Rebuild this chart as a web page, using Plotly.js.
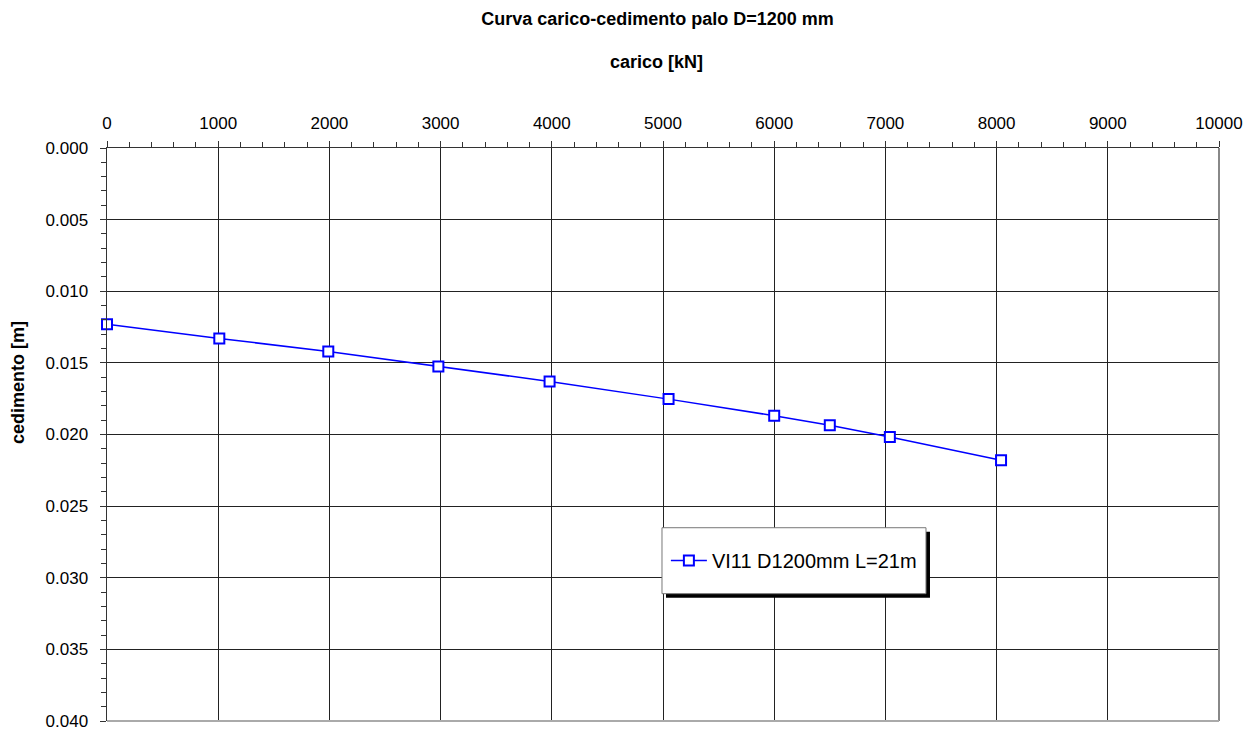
<!DOCTYPE html>
<html>
<head>
<meta charset="utf-8">
<script src="https://cdn.plot.ly/plotly-3.0.1.min.js"></script>
<style>html,body{margin:0;padding:0;background:#fff;}#chart{width:1254px;height:731px;}</style>
</head>
<body>
<div id="chart"></div>
<script>
var carico = [0, 1010, 1990, 2980, 3980, 5050, 6000, 6500, 7040, 8040];
var cedimento = [0.0123, 0.0133, 0.0142, 0.01525, 0.0163, 0.01753, 0.01869, 0.01936, 0.02018, 0.0218];
var seriesName = 'VI11 D1200mm L=21m';
var xTicks = [0, 1000, 2000, 3000, 4000, 5000, 6000, 7000, 8000, 9000, 10000];
var yTicks = [0.000, 0.005, 0.010, 0.015, 0.020, 0.025, 0.030, 0.035, 0.040];

var FONT = 'Liberation Sans, Arial, sans-serif';

var trace = {
  x: carico, y: cedimento, name: seriesName, type: 'scatter', mode: 'lines+markers',
  cliponaxis: false,
  line: {color: '#0000ff', width: 1.5},
  marker: {symbol: 'square', size: 10, color: '#ffffff', line: {color: '#0000ff', width: 2}}
};

var layout = {
  width: 1254, height: 731,
  margin: {l: 107, r: 35, t: 148, b: 10},
  paper_bgcolor: '#ffffff', plot_bgcolor: '#ffffff',
  font: {family: FONT, color: '#000', size: 16},
  showlegend: true,
  title: {text: '<b>Curva carico-cedimento palo D=1200 mm</b>', x: 0.5243, xanchor: 'center', y: 0.975, yanchor: 'middle', yref: 'container', font: {family: FONT, size: 18, color: '#000'}},
  xaxis: {
    side: 'top', range: [0, 10000], tickvals: xTicks, ticktext: xTicks.map(String),
    ticks: 'outside', ticklen: 6, tickcolor: '#333', tickwidth: 1,
    showline: true, linecolor: '#333', linewidth: 1.5, mirror: false,
    showgrid: true, gridcolor: '#222', gridwidth: 1, zeroline: false,
    ticklabelstandoff: 5,
    minor: {dtick: 200, ticks: 'outside', ticklen: 5, tickcolor: '#333', showgrid: false},
    tickfont: {size: 17, family: FONT}
  },
  yaxis: {
    range: [0.040, 0.000], tickvals: yTicks, ticktext: yTicks.map(function(v){return v.toFixed(3);}),
    ticks: 'outside', ticklen: 6, tickcolor: '#333', tickwidth: 1,
    showline: true, linecolor: '#333', linewidth: 1.5, mirror: false,
    showgrid: true, gridcolor: '#222', gridwidth: 1, zeroline: false,
    ticklabelstandoff: 8,
    minor: {dtick: 0.001, ticks: 'outside', ticklen: 5, tickcolor: '#333', showgrid: false},
    tickfont: {size: 17, family: FONT}
  },
  legend: {
    x: 0.5026, y: 0.3141, xanchor: 'left', yanchor: 'top',
    bgcolor: 'rgba(0,0,0,0)', bordercolor: 'rgba(0,0,0,0)', borderwidth: 0,
    font: {family: FONT, size: 20, color: '#000'},
    itemwidth: 36
  },
  annotations: [
    {text: '<b>carico [kN]</b>', xref: 'paper', yref: 'paper', x: 0.4946, y: 1, yshift: 86, xanchor: 'center', yanchor: 'middle', showarrow: false, font: {family: FONT, size: 18, color: '#000'}},
    {text: '<b>cedimento [m]</b>', xref: 'paper', yref: 'paper', x: 0, xshift: -89, y: 0.59, textangle: -90, xanchor: 'center', yanchor: 'middle', showarrow: false, font: {family: FONT, size: 18, color: '#000'}}
  ],
  shapes: [
    {type: 'line', xref: 'paper', yref: 'paper', x0: 1, x1: 1, y0: 0, y1: 1, line: {color: '#888', width: 2}},
    {type: 'line', xref: 'paper', yref: 'paper', x0: 0, x1: 1, y0: 0, y1: 0, line: {color: '#aaa', width: 2}},
    {type: 'rect', layer: 'above', xref: 'paper', yref: 'paper', x0: 0.5027, x1: 0.7401, y0: 0.2152, y1: 0.3303, fillcolor: '#000', line: {width: 0}},
    {type: 'rect', layer: 'above', xref: 'paper', yref: 'paper', x0: 0.4991, x1: 0.7365, y0: 0.2222, y1: 0.3373, fillcolor: '#fff', line: {color: '#777', width: 1}}
  ]
};

Plotly.newPlot('chart', [trace], layout, {displayModeBar: false, staticPlot: true});
</script>
</body>
</html>
